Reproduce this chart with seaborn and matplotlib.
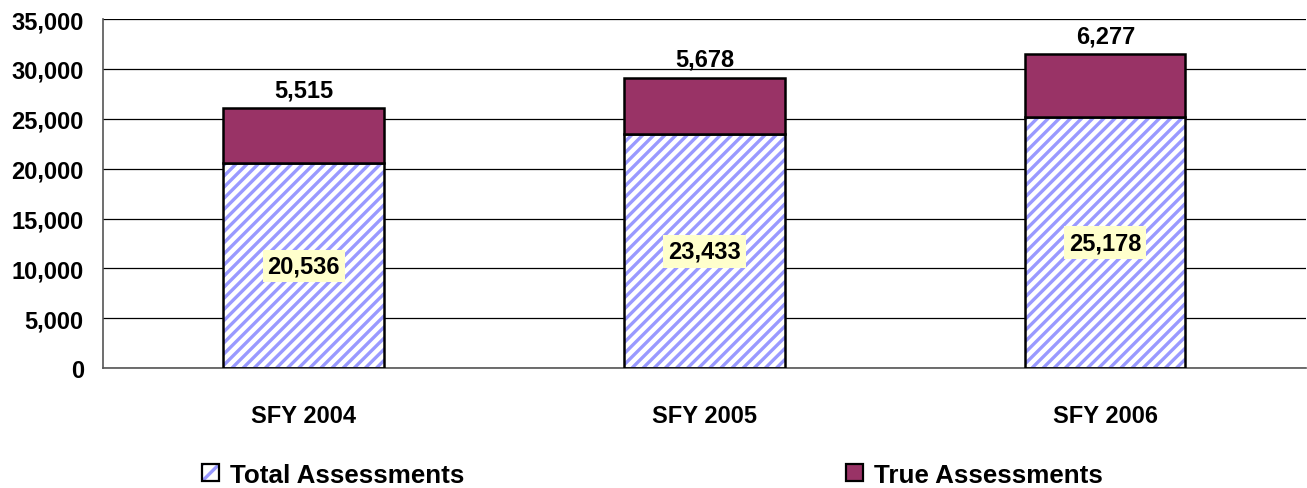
import matplotlib
matplotlib.use("Agg")
import matplotlib.pyplot as plt
import matplotlib.ticker as mticker
from matplotlib.patches import Patch
import seaborn as sns

years = ["SFY 2004", "SFY 2005", "SFY 2006"]
total_assessments = [20536, 23433, 25178]
true_assessments = [5515, 5678, 6277]

sns.set_style("white")
plt.rcParams["font.family"] = ["Liberation Sans", "DejaVu Sans"]
plt.rcParams["font.weight"] = "bold"
plt.rcParams["text.color"] = "black"
plt.rcParams["xtick.labelcolor"] = "black"
plt.rcParams["ytick.labelcolor"] = "black"
plt.rcParams["hatch.linewidth"] = 2.4

FS = 17

fig = plt.figure(figsize=(13.07, 4.89), dpi=100)
ax = fig.add_axes([0.079, 0.245, 0.92, 0.714])

hatch_col = "#9999ff"
purple = "#993366"

# hatched bottom segment (hatch drawn in blue, outline added afterwards)
sns.barplot(x=years, y=total_assessments, ax=ax, color="white", width=0.4,
            edgecolor=hatch_col, linewidth=0, hatch="///", saturation=1, zorder=2)
sns.barplot(x=years, y=total_assessments, ax=ax, fill=False, width=0.4,
            edgecolor="black", linewidth=1.8, zorder=3)
sns.barplot(x=years, y=true_assessments, bottom=total_assessments, ax=ax,
            color=purple, width=0.4, edgecolor="black", linewidth=1.8,
            saturation=1, zorder=3)

for i, (t, tr) in enumerate(zip(total_assessments, true_assessments)):
    ax.text(i, t / 2, f"{t:,}", ha="center", va="center", fontsize=FS,
            fontweight="bold", color="black", zorder=5,
            bbox=dict(boxstyle="square,pad=0.2", fc="#ffffcc", ec="none"))
    ax.annotate(f"{tr:,}", (i, t + tr), xytext=(0, 5), textcoords="offset points",
                ha="center", va="bottom", fontsize=FS, fontweight="bold",
                color="black", zorder=5)

ax.set_ylim(0, 35000)
ax.set_xlim(-0.5, 2.5)
ax.yaxis.set_major_locator(mticker.MultipleLocator(5000))
ax.yaxis.set_major_formatter(mticker.StrMethodFormatter("{x:,.0f}"))
ax.grid(True, axis="y", color="black", linewidth=0.9)
ax.set_axisbelow(True)

ax.set_xticks([0, 1, 2])
ax.set_xticklabels(years)
ax.xaxis.set_minor_locator(mticker.FixedLocator([0.5, 1.5]))
ax.tick_params(axis="x", which="major", length=0, pad=26, labelsize=FS)
ax.tick_params(axis="x", which="minor", length=6, width=0.9, color="#555555")
ax.tick_params(axis="y", length=6, width=0.9, color="#555555", labelsize=FS, pad=8)
for lab in ax.get_xticklabels() + ax.get_yticklabels():
    lab.set_fontweight("bold")
    lab.set_color("black")

for s in ["top", "right"]:
    ax.spines[s].set_visible(False)
for s in ["left", "bottom"]:
    ax.spines[s].set_color("#555555")
    ax.spines[s].set_linewidth(1.2)
ax.set_xlabel("")
ax.set_ylabel("")

total_handle = (
    Patch(facecolor="white", edgecolor=hatch_col, hatch="//", linewidth=0),
    Patch(fill=False, edgecolor="black", linewidth=1.6),
)
true_handle = Patch(facecolor=purple, edgecolor="black", linewidth=1.6)
fig.legend([total_handle, true_handle], ["Total Assessments", "True Assessments"],
           ncol=2, loc="center", bbox_to_anchor=(0.499, 0.027), frameon=False,
           prop=dict(size=18.7, weight="bold"), handlelength=0.65,
           handleheight=0.65, handletextpad=0.42, columnspacing=14.7,
           labelcolor="black")

fig.savefig("out.png", dpi=100)
